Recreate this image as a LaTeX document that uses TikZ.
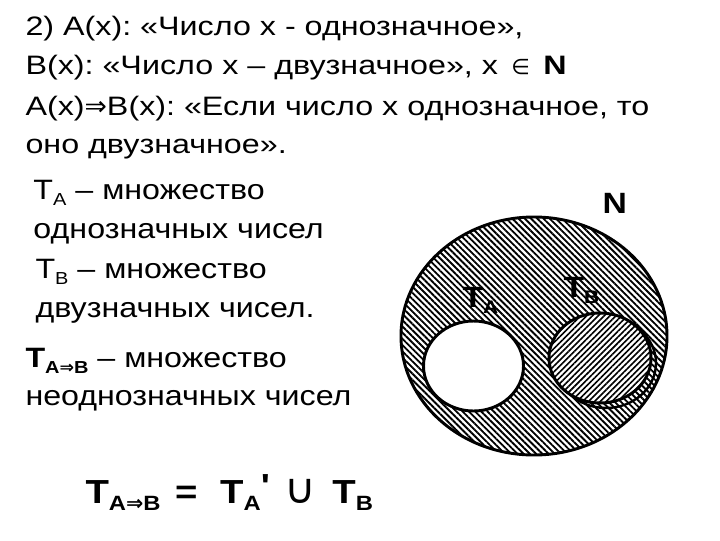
\documentclass[tikz,border=0pt]{standalone}
\usepackage{fontspec}
\setmainfont[FakeStretch=1.15]{Liberation Sans}
\newfontfamily\topfont[FakeStretch=1.21]{Liberation Sans}
\newfontfamily\symfont{DejaVu Sans}
\usetikzlibrary{patterns.meta}

\newcommand{\lowsub}[1]{\raisebox{-0.45ex}{\scalebox{0.62}{#1}}}
\newcommand{\impl}{{\symfont ⇒}}
\frenchspacing

\tikzset{every picture/.style={line width=0.75pt}}
\tikzset{
  toptext/.style={anchor=base west,inner sep=0pt,font=\topfont\fontsize{20}{24}\selectfont},
  midtext/.style={anchor=base west,inner sep=0pt,font=\fontsize{21}{25}\selectfont},
  bigtext/.style={anchor=base west,inner sep=0pt,font=\fontsize{25}{30}\selectfont},
  setlabel/.style={anchor=base west,inner sep=0pt,font=\bfseries\fontsize{22}{26}\selectfont},
  outerhatch/.style={pattern={Lines[angle=-45,distance=3.3pt,line width=1.4pt]}},
  innerhatch/.style={pattern={Lines[angle=45,distance=3.1pt,line width=1.2pt]}}
}

\begin{document}
\begin{tikzpicture}[x=0.75pt,y=0.75pt,yscale=-1,xscale=1]
\useasboundingbox (0,0) rectangle (720,540);

%Shape: Ellipse (set N)
\draw [line width=2.2pt, outerhatch] (534,336) ellipse [x radius=133, y radius=119];
%Shape: Ellipse (double edge of T_B)
\draw [line width=1.8pt] (606,363) ellipse [x radius=50, y radius=45];
%Shape: Ellipse (set T_B)
\draw [line width=2.2pt, preaction={fill=white}, innerhatch] (600,358) ellipse [x radius=51, y radius=45];
%Shape: Ellipse (set T_A)
\draw [line width=2.2pt, fill=white] (473.5,366) ellipse [x radius=50, y radius=45];

% Text Node
\draw (25,35) node (line1) [toptext] {2) A(x): «Число x - однозначное»,};
% Text Node
\draw (25,74) node (line2) [toptext] {B(x): «Число x – двузначное», x \,{\symfont\scalebox{0.8}{∈}}\, \textbf{N}};
% Text Node
\draw (25,115) node (line3) [toptext] {A(x)\impl B(x): «Если число x однозначное, то};
% Text Node
\draw (25,153) node (line4) [toptext] {оно двузначное».};

% Text Node
\draw (33,199) node (ta1) [midtext] {T\lowsub{A} – множество};
% Text Node
\draw (33,238) node (ta2) [midtext] {однозначных чисел};
% Text Node
\draw (35,278) node (tb1) [midtext] {T\lowsub{B} – множество};
% Text Node
\draw (35,317) node (tb2) [midtext] {двузначных чисел.};

% Text Node
\draw (25,367) node (tab1) [midtext] {\textbf{T\lowsub{A\impl B}} – множество};
% Text Node
\draw (25,405) node (tab2) [midtext] {неоднозначных чисел};

% Text Node
\draw (85,503) node (formula) [bigtext] {\textbf{T\lowsub{A\impl B}\hspace{3pt} =\hspace{9pt} T\lowsub{A}\raisebox{0.3ex}{\textquotesingle}}\hspace{4pt} {\symfont\scalebox{1.3}[1.25]{∪}}\hspace{4pt} \textbf{T\lowsub{B}}};

% Text Node
\draw (602,213) node (setN) [setlabel] {N};
% Text Node
\draw (462,307) node (labA) [setlabel] {T\lowsub{A}};
% Text Node
\draw (563,297) node (labB) [setlabel] {T\lowsub{B}};

\end{tikzpicture}
\end{document}
